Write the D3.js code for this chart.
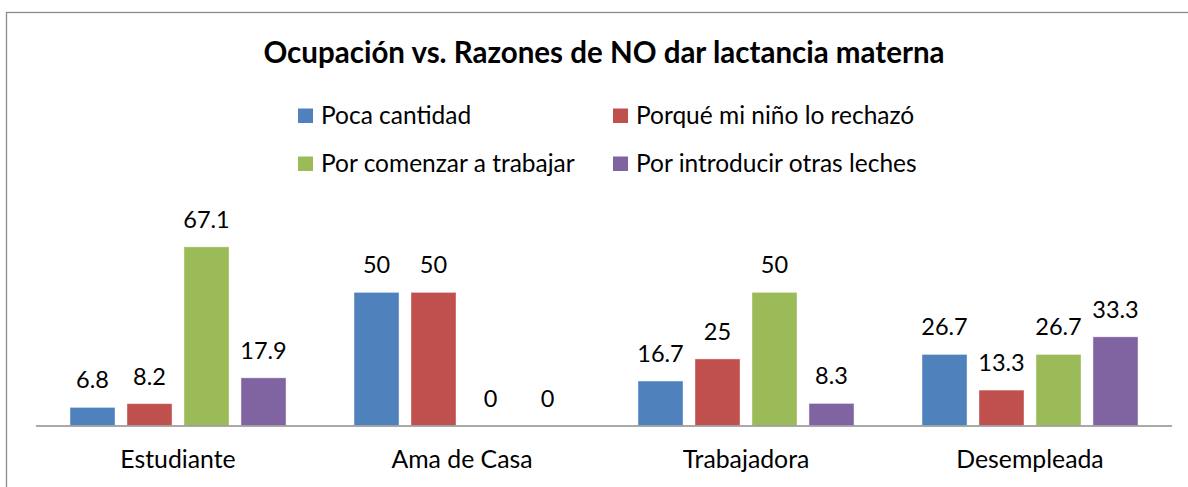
<!DOCTYPE html>
<html>
<head>
<meta charset="utf-8">
<script src="https://cdn.jsdelivr.net/npm/d3@7"></script>
<style>
  body { margin: 0; background: #fff; }
  svg { display: block; font-family: Lato, "Open Sans", sans-serif; }
</style>
</head>
<body>
<div id="chart"></div>
<script>
// Chart data
const categories = ['Estudiante', 'Ama de Casa', 'Trabajadora', 'Desempleada'];
const seriesNames = ['Poca cantidad', 'Porqué mi niño lo rechazó', 'Por comenzar a trabajar', 'Por introducir otras leches'];
const pocaCantidad = [6.8, 50, 16.7, 26.7];
const rechazo = [8.2, 50, 25, 13.3];
const trabajar = [67.1, 0, 50, 26.7];
const otrasLeches = [17.9, 0, 8.3, 33.3];
const colors = ['#4F81BD', '#C0504D', '#9BBB59', '#8064A2'];

const seriesValues = [pocaCantidad, rechazo, trabajar, otrasLeches];

const width = 1188, height = 487;
const margin = { left: 36, right: 16, top: 212.5, bottom: 61.5 };

const svg = d3.select('#chart')
    .append('svg')
    .attr('width', width)
    .attr('height', height);

// Chart area border
svg.append('rect')
    .attr('x', 6.5)
    .attr('y', 12.5)
    .attr('width', 1200)
    .attr('height', 500)
    .attr('fill', 'none')
    .attr('stroke', '#8c8c8c')
    .attr('stroke-width', 1.3);

// Title
svg.append('text')
    .attr('x', 604)
    .attr('y', 63)
    .attr('text-anchor', 'middle')
    .attr('font-size', '29.5px')
    .attr('font-weight', 'bold')
    .attr('fill', '#000')
    .text('Ocupación vs. Razones de NO dar lactancia materna');

// Legend
const legendPos = [[298, 115.5], [613, 115.5], [298, 163.5], [613, 163.5]];
seriesNames.forEach((name, i) => {
    const g = svg.append('g').attr('transform', `translate(${legendPos[i][0]},${legendPos[i][1]})`);
    g.append('rect')
        .attr('x', 0)
        .attr('y', -7)
        .attr('width', 15)
        .attr('height', 14.5)
        .attr('fill', colors[i]);
    g.append('text')
        .attr('x', 23)
        .attr('y', 8)
        .attr('font-size', '24.5px')
        .attr('fill', '#000')
        .text(name);
});

// Scales
const x0 = d3.scaleBand()
    .domain(categories)
    .range([margin.left, width - margin.right]);

const groupW = 216;
const x1 = d3.scaleBand()
    .domain(d3.range(seriesNames.length))
    .range([(x0.bandwidth() - groupW) / 2, (x0.bandwidth() + groupW) / 2])
    .paddingInner(0.21);

const y = d3.scaleLinear()
    .domain([0, 80])
    .range([height - margin.bottom, margin.top]);

// Bars and data labels
const groups = svg.selectAll('.cat')
    .data(categories)
    .enter()
    .append('g')
    .attr('class', 'cat')
    .attr('transform', d => `translate(${x0(d)},0)`);

groups.each(function(cat, ci) {
    const g = d3.select(this);
    seriesValues.forEach((vals, si) => {
        const v = vals[ci];
        if (v > 0) {
            g.append('rect')
                .attr('x', x1(si))
                .attr('y', y(v))
                .attr('width', x1.bandwidth())
                .attr('height', y(0) - y(v))
                .attr('fill', colors[si])
                .attr('stroke', '#fff')
                .attr('stroke-opacity', 0.5)
                .attr('stroke-width', 0.8);
        }
        g.append('text')
            .attr('x', x1(si) + x1.bandwidth() / 2)
            .attr('y', y(v) - 19)
            .attr('text-anchor', 'middle')
            .attr('font-size', '23.5px')
            .attr('fill', '#000')
            .text(v);
    });
});

// Category axis
svg.append('line')
    .attr('x1', margin.left)
    .attr('x2', width - margin.right)
    .attr('y1', y(0) + 0.5)
    .attr('y2', y(0) + 0.5)
    .attr('stroke', '#8c8c8c')
    .attr('stroke-width', 1.5);

svg.selectAll('.cat-label')
    .data(categories)
    .enter()
    .append('text')
    .attr('class', 'cat-label')
    .attr('x', d => x0(d) + x0.bandwidth() / 2)
    .attr('y', 468)
    .attr('text-anchor', 'middle')
    .attr('font-size', '24.8px')
    .attr('fill', '#000')
    .text(d => d);
</script>
</body>
</html>
